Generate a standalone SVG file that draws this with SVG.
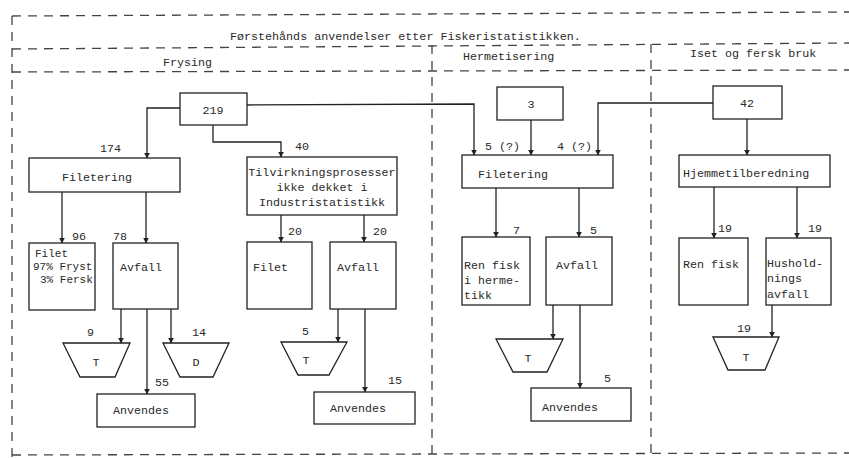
<svg xmlns="http://www.w3.org/2000/svg" width="849" height="459" viewBox="0 0 849 459">
<defs>
<style>
text{font-family:"Liberation Mono","DejaVu Sans Mono",monospace;font-size:11.7px;fill:#2a2a2a}
.c{text-anchor:middle}
.sm{font-size:11px}
.box{fill:none;stroke:#222;stroke-width:1.3}
.dash{fill:none;stroke:#444;stroke-width:1.3;stroke-dasharray:9,7}
.ln{fill:none;stroke:#222;stroke-width:1.3}
.ar{fill:none;stroke:#222;stroke-width:1.3;marker-end:url(#ah)}
</style>
<marker id="ah" viewBox="0 0 10 10" refX="9" refY="5" markerWidth="6" markerHeight="7" orient="auto" markerUnits="userSpaceOnUse">
<path d="M0,0 L10,5 L0,10 z" fill="#222"/>
</marker>
</defs>
<rect width="849" height="459" fill="#fff"/>
<g id="frame">
<line class="dash" x1="12" y1="16" x2="849" y2="12"/>
<line class="dash" x1="12" y1="49" x2="849" y2="43"/>
<line class="dash" x1="12" y1="72" x2="849" y2="70"/>
<line class="dash" x1="12" y1="455" x2="849" y2="453"/>
<line class="dash" x1="12" y1="16" x2="12" y2="459"/>
<line class="dash" x1="432" y1="45" x2="432" y2="459"/>
<line class="dash" x1="651" y1="44" x2="651" y2="459"/>
<text x="230" y="40">Førstehånds anvendelser etter Fiskeristatistikken.</text>
<text x="163" y="66">Frysing</text>
<text x="463" y="60">Hermetisering</text>
<text x="690" y="57">Iset og fersk bruk</text>
</g>
<g id="connectors">
<polyline class="ar" points="180,108 147,108 147,158"/>
<polyline class="ar" points="213,125 213,142 281,142 281,157"/>
<polyline class="ar" points="247,105 474,104 474,155"/>
<line class="ar" x1="531" y1="120" x2="531" y2="155"/>
<polyline class="ar" points="713,103 598,103 598,155"/>
<line class="ar" x1="747" y1="119" x2="747" y2="155"/>
<line class="ar" x1="62" y1="192" x2="62" y2="243"/>
<line class="ar" x1="146" y1="192" x2="146" y2="243"/>
<line class="ar" x1="121" y1="309" x2="121" y2="343"/>
<line class="ar" x1="171" y1="309" x2="171" y2="343"/>
<line class="ar" x1="147" y1="309" x2="147" y2="394"/>
<line class="ar" x1="281" y1="215" x2="281" y2="242"/>
<line class="ar" x1="364" y1="215" x2="364" y2="242"/>
<line class="ar" x1="338" y1="309" x2="338" y2="342"/>
<line class="ar" x1="365" y1="309" x2="365" y2="392"/>
<line class="ar" x1="496" y1="188" x2="496" y2="237"/>
<line class="ar" x1="579" y1="188" x2="579" y2="237"/>
<line class="ar" x1="553" y1="305" x2="553" y2="339"/>
<line class="ar" x1="580" y1="305" x2="580" y2="388"/>
<line class="ar" x1="714" y1="187" x2="714" y2="238"/>
<line class="ar" x1="797" y1="187" x2="797" y2="238"/>
<line class="ar" x1="772" y1="305" x2="772" y2="337"/>
<text x="100" y="152">174</text>
<text x="295" y="150">40</text>
<text x="485" y="150">5 (?)</text>
<text x="557" y="150">4 (?)</text>
<text x="72" y="240">96</text>
<text x="113" y="240">78</text>
<text x="87" y="336">9</text>
<text x="192" y="336">14</text>
<text x="155" y="386">55</text>
<text x="288" y="235">20</text>
<text x="373" y="235">20</text>
<text x="302" y="335">5</text>
<text x="388" y="384">15</text>
<text x="513" y="234">7</text>
<text x="590" y="234">5</text>
<text x="604" y="382">5</text>
<text x="718" y="232">19</text>
<text x="808" y="232">19</text>
<text x="737" y="332">19</text>
</g>
<g id="n219"><rect class="box" x="180" y="93" width="67" height="32"/><text class="c" x="213" y="114">219</text></g>
<g id="n3"><rect class="box" x="497" y="87" width="66" height="33"/><text class="c" x="531" y="108">3</text></g>
<g id="n42"><rect class="box" x="713" y="86" width="69" height="33"/><text class="c" x="747" y="107">42</text></g>
<g id="filetering1"><rect class="box" x="29" y="158" width="151" height="34"/><text x="62" y="181">Filetering</text></g>
<g id="tilvirkning"><rect class="box" x="247" y="157" width="150" height="58"/><text class="c" x="322" y="176">Tilvirkningsprosesser</text><text class="c" x="322" y="191">ikke dekket i</text><text class="c" x="322" y="206">Industristatistikk</text></g>
<g id="filetering2"><rect class="box" x="462" y="155" width="151" height="33"/><text x="478" y="178">Filetering</text></g>
<g id="hjemme"><rect class="box" x="679" y="155" width="151" height="32"/><text x="683" y="177">Hjemmetilberedning</text></g>
<g id="filet1"><rect class="box" x="29" y="243" width="66" height="67"/><text class="sm" x="35" y="257">Filet</text><text class="sm" x="33" y="270">97% Fryst</text><text class="sm" x="40" y="283">3% Fersk</text></g>
<g id="avfall1"><rect class="box" x="113" y="243" width="65" height="66"/><text x="120" y="271">Avfall</text></g>
<g id="filet2"><rect class="box" x="247" y="242" width="65" height="67"/><text x="253" y="271">Filet</text></g>
<g id="avfall2"><rect class="box" x="330" y="242" width="66" height="67"/><text x="337" y="271">Avfall</text></g>
<g id="renfisk1"><rect class="box" x="462" y="237" width="68" height="68"/><text x="464" y="269">Ren fisk</text><text x="464" y="284">i herme-</text><text x="464" y="299">tikk</text></g>
<g id="avfall3"><rect class="box" x="546" y="237" width="66" height="68"/><text x="556" y="269">Avfall</text></g>
<g id="renfisk2"><rect class="box" x="679" y="238" width="69" height="67"/><text x="683" y="268">Ren fisk</text></g>
<g id="hushold"><rect class="box" x="766" y="238" width="65" height="67"/><text x="767" y="267">Hushold-</text><text x="767" y="282">nings</text><text x="767" y="298">avfall</text></g>
<g id="t1"><polygon class="box" points="63,343 130,343 115,377 80,377"/><text class="c" x="96" y="366">T</text></g>
<g id="d1"><polygon class="box" points="163,343 229,343 213,377 180,377"/><text class="c" x="196" y="366">D</text></g>
<g id="anv1"><rect class="box" x="97" y="394" width="98" height="33"/><text x="113" y="414">Anvendes</text></g>
<g id="t2"><polygon class="box" points="281,342 347,342 329,375 298,375"/><text class="c" x="306" y="364">T</text></g>
<g id="anv2"><rect class="box" x="314" y="392" width="101" height="32"/><text x="330" y="412">Anvendes</text></g>
<g id="t3"><polygon class="box" points="496,339 563,339 547,372 513,372"/><text class="c" x="528" y="362">T</text></g>
<g id="anv3"><rect class="box" x="531" y="388" width="100" height="33"/><text x="542" y="411">Anvendes</text></g>
<g id="t4"><polygon class="box" points="713,337 779,337 765,370 728,370"/><text class="c" x="746" y="361">T</text></g>
</svg>
